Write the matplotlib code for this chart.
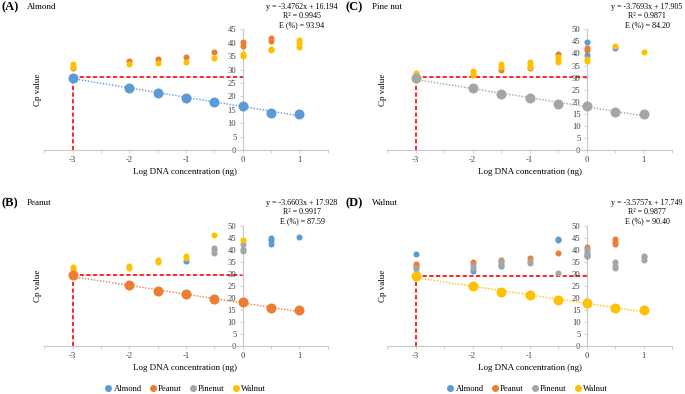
import matplotlib
matplotlib.use("Agg")
import matplotlib.pyplot as plt
import numpy as np

plt.rcParams["font.family"] = ["Liberation Serif", "DejaVu Serif"]

W, H = 685, 394

series_names = ["Almond", "Peanut", "Pinenut", "Walnut"]
series_colors = ["#5B9BD5", "#ED7D31", "#A5A5A5", "#FFC000"]

conc = [-3, -2, -1.5, -1, -0.5, 0, 0.5, 1]

# (A) Almond assay
a_std = [26.7, 23.2, 21.4, 19.5, 17.8, 16.3, 13.8, 13.4]
a_peanut_x = [-3, -2, -1.5, -1, -0.5, 0, 0, 0.5, 0.5]
a_peanut_y = [30.5, 33.1, 33.8, 34.8, 36.7, 40.2, 38.7, 41.9, 40.8]
a_walnut_x = [-3, -3, -2, -1.5, -1, -0.5, 0, 0, 0.5, 0.5, 1, 1, 1]
a_walnut_y = [32.0, 31.1, 32.0, 32.6, 32.8, 34.4, 35.7, 35.1, 37.7, 37.3, 41.0, 39.8, 38.4]

# (B) Peanut assay
b_std = [29.6, 25.3, 23.1, 21.7, 19.4, 18.3, 15.9, 14.9]
b_almond_x = [-1, 0.5, 0.5, 0.5, 1]
b_almond_y = [35.5, 44.9, 44.2, 42.4, 45.4]
b_pinenut_x = [-0.5, -0.5, -0.5, 0, 0, 0]
b_pinenut_y = [40.7, 39.8, 38.9, 42.4, 40.3, 39.6]
b_walnut_x = [-3, -3, -2, -2, -1.5, -1.5, -1, -1, -0.5, 0]
b_walnut_y = [32.9, 32.1, 33.4, 32.5, 35.8, 34.8, 37.7, 36.6, 46.3, 44.2]

# (C) Pine nut assay
c_std = [29.7, 25.5, 23.1, 21.7, 19.2, 18.2, 15.7, 15.1]
c_almond_x = [0, 0, 0.5]
c_almond_y = [44.6, 39.4, 42.1]
c_peanut_x = [-1.5, -1, -0.5, 0, 0]
c_peanut_y = [33.1, 33.8, 39.6, 42.3, 41.4]
c_walnut_x = [-3, -3, -2, -2, -2, -1.5, -1.5, -1, -1, -1, -0.5, -0.5, -0.5, 0, 0, 0.5, 1]
c_walnut_y = [31.8, 31.1, 32.7, 31.8, 30.9, 35.5, 34.5, 36.6, 35.5, 34.5,
              38.7, 37.6, 36.5, 37.8, 37.0, 43.1, 40.5]

# (D) Walnut assay
d_std = [29.1, 25.0, 22.4, 21.2, 19.0, 17.8, 15.8, 15.1]
d_almond_x = [-3, -2, -1.5, -0.5, -0.5, 0, 0]
d_almond_y = [38.4, 31.3, 33.5, 44.7, 44.0, 37.6, 38.2]
d_peanut_x = [-3, -3, -2, -1.5, -1, -0.5, 0, 0.5, 0.5, 0.5]
d_peanut_y = [34.0, 33.2, 35.2, 35.8, 36.6, 38.7, 41.4, 44.4, 43.4, 42.3]
d_pinenut_x = [-3, -3, -2, -2, -1.5, -1.5, -1.5, -1, -1, -0.5, 0, 0, 0,
               0.5, 0.5, 0.5, 1, 1, 1]
d_pinenut_y = [32.7, 32.0, 33.7, 32.6, 35.5, 34.5, 33.8, 35.5, 34.4, 30.3,
               40.3, 39.3, 37.3, 34.9, 33.5, 32.4, 37.6, 36.9, 36.0]

slopes = [-3.4762, -3.6603, -3.7693, -3.5757]
intercepts = [16.194, 17.928, 17.905, 17.749]
r2 = ["0.9945", "0.9917", "0.9871", "0.9877"]
eff = ["93.94", "87.59", "84.20", "90.40"]
cutoffs = [27.1, 29.7, 30.2, 29.2]
letters = ["(A)", "(B)", "(C)", "(D)"]
titles = ["Almond", "Peanut", "Pine nut", "Walnut"]

panels = [
    dict(std=a_std, std_idx=0, ymax=45,
         others={1: (a_peanut_x, a_peanut_y), 3: (a_walnut_x, a_walnut_y)}),
    dict(std=b_std, std_idx=1, ymax=50,
         others={0: (b_almond_x, b_almond_y), 2: (b_pinenut_x, b_pinenut_y),
                 3: (b_walnut_x, b_walnut_y)}),
    dict(std=c_std, std_idx=2, ymax=50,
         others={0: (c_almond_x, c_almond_y), 1: (c_peanut_x, c_peanut_y),
                 3: (c_walnut_x, c_walnut_y)}),
    dict(std=d_std, std_idx=3, ymax=50,
         others={0: (d_almond_x, d_almond_y), 1: (d_peanut_x, d_peanut_y),
                 2: (d_pinenut_x, d_pinenut_y)}),
]

# pixel layout: (left, x-axis y pixel, width, height, column origin x, row top y)
layout = [
    (44.4, 150, 283.2, 120.7, 0, 0),
    (44.4, 346, 283.2, 120.0, 0, 196),
    (387.2, 150, 285.0, 120.7, 345, 0),
    (387.2, 346, 285.0, 120.0, 345, 196),
]

fig = plt.figure(figsize=(W / 100, H / 100), dpi=100)


def fx(px):
    return px / W


def fy(py):
    return 1 - py / H


for i, (p, (lx, by, w, h, ox, oy)) in enumerate(zip(panels, layout)):
    ax = fig.add_axes([fx(lx), fy(by), w / W, h / H])
    ax.set_xlim(-3.5, 1.5)
    ax.set_ylim(0, p["ymax"])
    for s in ["top", "right"]:
        ax.spines[s].set_visible(False)
    ax.spines["left"].set_position(("data", 0))
    for s in ["left", "bottom"]:
        ax.spines[s].set_color("#c8c8c8")
        ax.spines[s].set_linewidth(0.8)
    xt = np.arange(-3.5, 1.51, 0.5)
    ax.set_xticks(xt)
    ax.set_xticklabels([f"{v:g}" if v == int(v) and v >= -3 else "" for v in xt])
    ax.set_yticks(np.arange(0, p["ymax"] + 1, 5))
    ax.tick_params(axis="both", labelsize=6.2, colors="#c8c8c8", labelcolor="#404040",
                   length=2.5, width=0.6, pad=2)
    ax.patch.set_alpha(0)

    k = p["std_idx"]
    col = series_colors[k]
    xs = np.array([-3, 1])
    ax.plot(xs, slopes[i] * xs + intercepts[i], ls=(0, (1, 1.2)), color=col, lw=1.0, zorder=2)
    ax.plot([-3, 0], [cutoffs[i], cutoffs[i]], ls=(0, (2.5, 1.5)), color="#FF0000",
            lw=1.2, zorder=1)
    ax.plot([-3, -3], [0, cutoffs[i]], ls=(0, (2.5, 1.5)), color="#FF0000", lw=1.2,
            zorder=1, clip_on=False)
    for j in range(4):
        if j == k:
            ax.scatter(conc, p["std"], s=52, color=col, zorder=4, linewidths=0)
        elif j in p["others"]:
            px_, py_ = p["others"][j]
            ax.scatter(px_, py_, s=19, color=series_colors[j], zorder=3, linewidths=0)

    # titles and labels
    fig.text(fx(ox + 1), fy(oy + 7), letters[i], fontsize=9, fontweight="bold",
             va="center", ha="left")
    fig.text(fx(ox + 27), fy(oy + 7), titles[i], fontsize=6.5, va="center", ha="left")
    eq = f"y = {slopes[i]}x + {intercepts[i]:.3f}\nR\u00b2 = {r2[i]}\nE (%) = {eff[i]}"
    fig.text(fx(ox + 302), fy(oy + 3), eq, fontsize=5.8, va="top", ha="center",
             linespacing=1.15)
    fig.text(fx(ox + 38), fy(oy + 90), "Cp value", fontsize=6.5, rotation=90,
             va="center", ha="center")
    fig.text(fx(ox + 185), fy(oy + 172), "Log DNA concentration (ng)", fontsize=6.5,
             va="center", ha="center")

# legends under each column
for cx in [185, 527]:
    handles = [plt.Line2D([], [], marker="o", ls="", color=c, markersize=4)
               for c in series_colors]
    fig.legend(handles, series_names, loc="center", bbox_to_anchor=(fx(cx), fy(389)),
               ncol=4, frameon=False, fontsize=6.2, handletextpad=0.1, columnspacing=0.8,
               borderaxespad=0, handlelength=1)

fig.savefig("out.png", dpi=100)
